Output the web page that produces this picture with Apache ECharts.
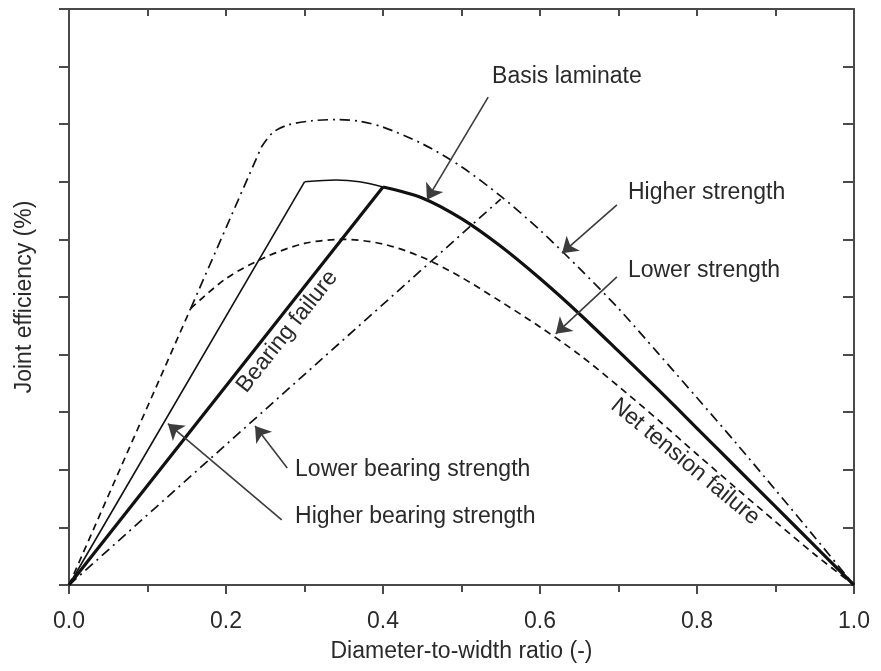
<!DOCTYPE html>
<html>
<head>
<meta charset="utf-8">
<script src="https://cdn.jsdelivr.net/npm/echarts@6/dist/echarts.min.js"></script>
<style>
  html, body { margin: 0; padding: 0; background: #fff; }
  #chart { width: 881px; height: 671px; }
</style>
</head>
<body>
<div id="chart"></div>
<script>
// Axis tick labels
const xTickLabels = ['0.0', '0.2', '0.4', '0.6', '0.8', '1.0'];

// Basis laminate: bearing line, then net tension curve
const basisBearing = [[0, 0], [0.4, 69.1]];
const basisNetTension = [
  [0.4, 69.1], [0.45, 67.2], [0.5, 63.6], [0.55, 58.8], [0.6, 53.2],
  [0.65, 47.1], [0.7, 40.6], [0.75, 34.0], [0.8, 27.2], [0.85, 20.4],
  [0.9, 13.6], [0.95, 6.8], [1.0, 0]
];

// Higher bearing strength: steeper bearing line, then net tension cap
const higherBearingLine = [[0, 0], [0.3, 70.0]];
const higherBearingCap = [[0.3, 70.0], [0.34, 70.3], [0.37, 70.0], [0.4, 69.1]];

// Lower bearing strength: shallower bearing line
const lowerBearing = [[0, 0], [0.55, 67.0]];

// Lower strength: shared steep bearing line, then net tension curve
const lowerStrengthBearing = [[0, 0], [0.155, 48.0]];
const lowerStrengthNet = [
  [0.155, 48.0], [0.2, 53.2], [0.25, 56.9], [0.3, 59.3], [0.35, 60.0],
  [0.4, 59.2], [0.45, 56.9], [0.5, 53.4], [0.55, 49.2], [0.6, 44.8],
  [0.65, 40.0], [0.7, 34.5], [0.75, 28.7], [0.8, 22.7], [0.85, 16.8],
  [0.9, 11.0], [0.95, 5.3], [1.0, 0]
];

// Higher strength: continuation of the steep bearing line, then net tension curve
const higherStrengthBearing = [[0.155, 48.0], [0.245, 76.0]];
const higherStrengthNet = [
  [0.245, 76.0], [0.26, 78.6], [0.28, 79.9], [0.31, 80.6], [0.34, 80.8],
  [0.37, 80.5], [0.4, 79.5], [0.45, 76.6], [0.5, 72.6], [0.55, 67.5],
  [0.6, 61.6], [0.65, 55.0], [0.7, 48.0], [0.75, 40.3], [0.8, 32.5],
  [0.85, 24.6], [0.9, 16.5], [0.95, 8.3], [1.0, 0]
];

// Annotation arrows: [from, to] in data coordinates
const arrowSegments = [
  [[0.534, 84.7], [0.456, 66.9]],   // Basis laminate
  [[0.698, 66.0], [0.628, 57.6]],   // Higher strength
  [[0.698, 53.5], [0.620, 43.6]],   // Lower strength
  [[0.278, 20.3], [0.237, 27.6]],   // Lower bearing strength
  [[0.271, 11.3], [0.126, 28.0]]    // Higher bearing strength
];

// Annotation texts: anchor in data coordinates
const annotations = [
  { text: 'Basis laminate', at: [0.539, 88.2], align: 'left', angle: 0 },
  { text: 'Higher strength', at: [0.712, 68.1], align: 'left', angle: 0 },
  { text: 'Lower strength', at: [0.712, 54.5], align: 'left', angle: 0 },
  { text: 'Lower bearing strength', at: [0.288, 20.0], align: 'left', angle: 0 },
  { text: 'Higher bearing strength', at: [0.288, 11.8], align: 'left', angle: 0 },
  { text: 'Bearing failure', at: [0.278, 44.0], align: 'center', angle: 51.7 },
  { text: 'Net tension failure', at: [0.785, 21.4], align: 'center', angle: -39.5 }
];

const FONT = '"Liberation Sans", Arial, Helvetica, sans-serif';
const TEXT_COLOR = '#2a2a2a';
const AXIS_COLOR = '#4a4a4a';
const FONT_SIZE = 23;

const chart = echarts.init(document.getElementById('chart'), null, { renderer: 'canvas' });

const dashDot = [10, 5, 2, 5];
const dashed = [7, 5];

function lineSeries(name, data, width, type, smooth, extra) {
  return Object.assign({
    name: name,
    type: 'line',
    data: data,
    showSymbol: false,
    symbol: 'none',
    smooth: smooth,
    silent: true,
    lineStyle: { color: '#111', width: width, type: type },
    z: 3
  }, extra || {});
}

const axisLineStyle = { color: AXIS_COLOR, width: 2 };

chart.setOption({
  animation: false,
  backgroundColor: '#fff',
  grid: { left: 69, right: 27, top: 9, bottom: 86, containLabel: false },
  xAxis: [
    {
      type: 'value', position: 'bottom', min: 0, max: 1, interval: 0.2,
      name: 'Diameter-to-width ratio (-)', nameLocation: 'middle', nameGap: 55,
      nameTextStyle: { fontFamily: FONT, fontSize: FONT_SIZE, color: TEXT_COLOR },
      axisLine: { show: true, onZero: false, lineStyle: axisLineStyle },
      axisTick: { show: true, inside: false, length: 9, lineStyle: axisLineStyle },
      minorTick: { show: true, splitNumber: 2, length: 7, lineStyle: axisLineStyle },
      axisLabel: {
        margin: 25, fontFamily: FONT, fontSize: FONT_SIZE, color: TEXT_COLOR,
        formatter: function (v) { return xTickLabels[Math.round(v / 0.2)]; }
      },
      splitLine: { show: false }
    },
    {
      type: 'value', position: 'top', min: 0, max: 1, interval: 0.1,
      axisLine: { show: true, onZero: false, lineStyle: axisLineStyle },
      axisTick: { show: true, inside: true, length: 7, lineStyle: axisLineStyle },
      axisLabel: { show: false },
      splitLine: { show: false }
    }
  ],
  yAxis: [
    {
      type: 'value', position: 'left', min: 0, max: 100, interval: 10,
      name: 'Joint efficiency (%)', nameLocation: 'middle', nameGap: 33,
      nameTextStyle: { fontFamily: FONT, fontSize: FONT_SIZE, color: TEXT_COLOR },
      axisLine: { show: true, onZero: false, lineStyle: axisLineStyle },
      axisTick: { show: true, inside: false, length: 10, lineStyle: axisLineStyle },
      axisLabel: { show: false },
      splitLine: { show: false }
    },
    {
      type: 'value', position: 'right', min: 0, max: 100, interval: 10,
      axisLine: { show: true, onZero: false, lineStyle: axisLineStyle },
      axisTick: { show: true, inside: true, length: 11, lineStyle: axisLineStyle },
      axisLabel: { show: false },
      splitLine: { show: false }
    }
  ],
  series: [
    lineSeries('Lower strength', lowerStrengthBearing, 1.7, dashed, false),
    lineSeries('Lower strength', lowerStrengthNet, 1.7, dashed, 0.3),
    lineSeries('Higher strength', higherStrengthBearing, 1.7, dashDot, false),
    lineSeries('Higher strength', higherStrengthNet, 1.7, dashDot, 0.3),
    lineSeries('Lower bearing strength', lowerBearing, 1.7, dashDot, false),
    lineSeries('Higher bearing strength', higherBearingLine, 1.6, 'solid', false),
    lineSeries('Higher bearing strength', higherBearingCap, 1.6, 'solid', 0.3),
    lineSeries('Basis laminate', basisBearing, 3.2, 'solid', false, { z: 4 }),
    lineSeries('Basis laminate', basisNetTension, 3.2, 'solid', 0.3, {
      z: 4,
      markLine: {
        silent: true,
        animation: false,
        symbol: ['none', 'arrow'],
        symbolSize: 15,
        label: { show: false },
        emphasis: { disabled: true },
        lineStyle: { color: '#3c3c3c', width: 1.6, type: 'solid' },
        data: arrowSegments.map(function (s) {
          return [{ coord: s[0] }, { coord: s[1] }];
        })
      }
    })
  ]
});

// Place annotation texts through the grid's coordinate system
chart.setOption({
  graphic: annotations.map(function (a) {
    const p = chart.convertToPixel({ gridIndex: 0 }, a.at);
    return {
      type: 'text',
      x: p[0],
      y: p[1],
      rotation: a.angle * Math.PI / 180,
      silent: true,
      z: 10,
      style: {
        text: a.text,
        font: FONT_SIZE + 'px ' + FONT,
        fill: TEXT_COLOR,
        align: a.align,
        verticalAlign: 'middle'
      }
    };
  })
});
</script>
</body>
</html>
